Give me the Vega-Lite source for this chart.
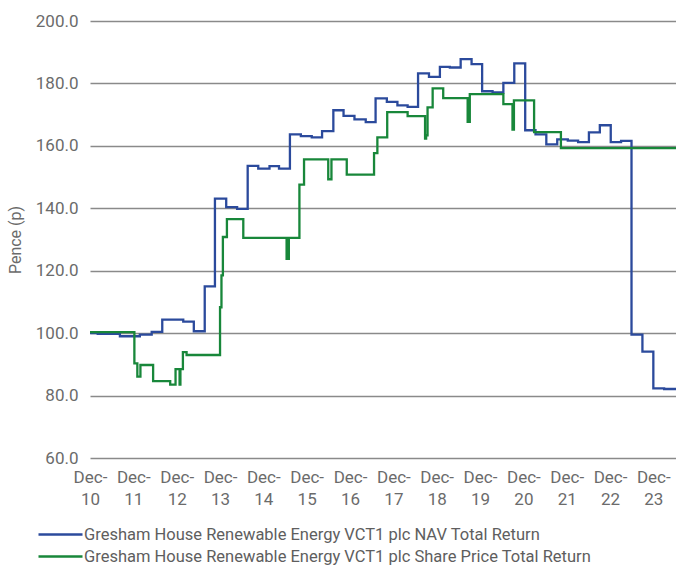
{
  "$schema": "https://vega.github.io/schema/vega-lite/v6.json",
  "width": 586,
  "height": 437,
  "autosize": {"type": "none"},
  "padding": {"left": 90, "top": 21, "right": 0, "bottom": 107},
  "background": "white",
  "config": {
    "view": {"stroke": null},
    "font": "Roboto",
    "axis": {"labelFont": "Roboto", "titleFont": "Roboto"},
    "legend": {"labelFont": "Roboto"}
  },
  "datasets": {
    "nav": [
      {"date": "2011-01-01", "v": 100.0},
      {"date": "2011-03-07", "v": 99.8},
      {"date": "2011-09-10", "v": 99.0},
      {"date": "2012-02-25", "v": 99.5},
      {"date": "2012-06-04", "v": 100.4},
      {"date": "2012-09-01", "v": 104.3},
      {"date": "2013-02-25", "v": 103.7},
      {"date": "2013-05-25", "v": 100.6},
      {"date": "2013-08-25", "v": 115.0},
      {"date": "2013-11-19", "v": 143.1},
      {"date": "2014-02-22", "v": 140.4},
      {"date": "2014-05-25", "v": 139.8},
      {"date": "2014-08-22", "v": 153.6},
      {"date": "2014-11-19", "v": 152.7},
      {"date": "2015-02-22", "v": 153.5},
      {"date": "2015-05-13", "v": 152.7},
      {"date": "2015-08-13", "v": 163.7},
      {"date": "2015-11-13", "v": 163.1},
      {"date": "2016-02-13", "v": 162.7},
      {"date": "2016-05-10", "v": 164.7},
      {"date": "2016-08-13", "v": 171.4},
      {"date": "2016-11-07", "v": 169.6},
      {"date": "2017-02-07", "v": 168.5},
      {"date": "2017-05-13", "v": 167.6},
      {"date": "2017-08-04", "v": 175.2},
      {"date": "2017-11-07", "v": 174.1},
      {"date": "2018-02-04", "v": 173.0},
      {"date": "2018-05-01", "v": 172.5},
      {"date": "2018-07-28", "v": 183.2},
      {"date": "2018-10-28", "v": 182.1},
      {"date": "2019-01-28", "v": 185.3},
      {"date": "2019-04-22", "v": 185.1},
      {"date": "2019-07-22", "v": 187.8},
      {"date": "2019-10-22", "v": 186.2},
      {"date": "2020-01-19", "v": 177.5},
      {"date": "2020-04-16", "v": 177.1},
      {"date": "2020-07-16", "v": 180.2},
      {"date": "2020-10-16", "v": 186.4},
      {"date": "2021-01-16", "v": 165.0},
      {"date": "2021-04-13", "v": 163.7},
      {"date": "2021-07-13", "v": 160.5},
      {"date": "2021-10-13", "v": 162.1},
      {"date": "2022-01-10", "v": 161.7},
      {"date": "2022-04-07", "v": 161.2},
      {"date": "2022-07-07", "v": 164.3},
      {"date": "2022-10-07", "v": 166.6},
      {"date": "2023-01-07", "v": 161.2},
      {"date": "2023-04-04", "v": 161.6},
      {"date": "2023-07-01", "v": 99.5},
      {"date": "2023-10-01", "v": 94.1},
      {"date": "2024-01-01", "v": 82.3},
      {"date": "2024-04-01", "v": 82.1},
      {"date": "2024-07-10", "v": 82.1}
    ],
    "price": [
      {"date": "2011-01-01", "v": 100.3},
      {"date": "2012-01-10", "v": 90.3},
      {"date": "2012-02-04", "v": 86.1},
      {"date": "2012-03-01", "v": 89.8},
      {"date": "2012-06-16", "v": 84.6},
      {"date": "2012-11-07", "v": 83.5},
      {"date": "2012-12-22", "v": 88.5},
      {"date": "2013-01-25", "v": 83.5},
      {"date": "2013-02-01", "v": 88.5},
      {"date": "2013-02-22", "v": 93.9},
      {"date": "2013-03-25", "v": 93.0},
      {"date": "2014-01-01", "v": 108.3},
      {"date": "2014-01-13", "v": 118.5},
      {"date": "2014-01-25", "v": 130.8},
      {"date": "2014-02-28", "v": 136.5},
      {"date": "2014-07-16", "v": 130.5},
      {"date": "2015-07-16", "v": 123.8},
      {"date": "2015-08-04", "v": 130.5},
      {"date": "2015-11-01", "v": 147.6},
      {"date": "2015-12-10", "v": 155.7},
      {"date": "2016-07-01", "v": 149.3},
      {"date": "2016-07-28", "v": 155.7},
      {"date": "2016-12-04", "v": 150.8},
      {"date": "2017-07-22", "v": 157.7},
      {"date": "2017-08-19", "v": 162.7},
      {"date": "2017-11-10", "v": 170.8},
      {"date": "2018-05-01", "v": 169.5},
      {"date": "2018-09-25", "v": 162.3},
      {"date": "2018-10-04", "v": 163.4},
      {"date": "2018-10-16", "v": 172.3},
      {"date": "2018-11-28", "v": 178.4},
      {"date": "2019-02-25", "v": 175.3},
      {"date": "2019-09-19", "v": 167.7},
      {"date": "2019-10-07", "v": 176.6},
      {"date": "2020-07-16", "v": 173.4},
      {"date": "2020-10-01", "v": 165.2},
      {"date": "2020-10-13", "v": 174.6},
      {"date": "2021-04-01", "v": 164.4},
      {"date": "2021-11-13", "v": 159.3},
      {"date": "2024-07-10", "v": 159.3}
    ]
  },
  "layer": [
    {
      "data": {"name": "nav"},
      "transform": [
        {"calculate": "'Gresham House Renewable Energy VCT1 plc NAV Total Return'", "as": "series"}
      ],
      "mark": {"type": "line", "interpolate": "step-after", "strokeWidth": 2.3, "clip": true},
      "encoding": {
        "x": {
          "field": "date", "type": "temporal",
          "scale": {"domain": ["2011-01-01", "2024-07-10"]},
          "axis": {
            "title": null, "grid": false, "domain": false, "ticks": false,
            "tickCount": {"interval": "year", "step": 1},
            "labelExpr": "['Dec-', slice('' + (year(datum.value) - 1), 2)]",
            "labelFontSize": 17, "labelColor": "#6b6b6b", "labelPadding": 11,
            "labelLineHeight": 22, "labelOverlap": false, "labelFlush": false,
            "labelBound": false, "labelAlign": "center"
          }
        },
        "y": {
          "field": "v", "type": "quantitative",
          "scale": {"domain": [60, 200], "nice": false, "zero": false},
          "axis": {
            "title": "Pence (p)", "titleFontSize": 16, "titleFontWeight": "normal",
            "titleColor": "#6b6b6b", "titlePadding": 12,
            "values": [60, 80, 100, 120, 140, 160, 180, 200],
            "format": ".1f", "labelFontSize": 17, "labelColor": "#6b6b6b",
            "labelPadding": 12, "domain": false, "ticks": false,
            "grid": true, "gridColor": "#8a8a8a", "gridWidth": 1.3
          }
        },
        "color": {
          "field": "series", "type": "nominal",
          "scale": {
            "domain": ["Gresham House Renewable Energy VCT1 plc NAV Total Return", "Gresham House Renewable Energy VCT1 plc Share Price Total Return"],
            "range": ["#2b4a9c", "#18873a"]
          },
          "legend": {
            "title": null, "orient": "none", "legendX": -42, "legendY": 501,
            "direction": "vertical", "symbolType": "M-2,0H2", "symbolSize": 484,
            "symbolStrokeWidth": 2.5, "labelFontSize": 16.5, "labelColor": "#5e5e5e",
            "labelLimit": 1000, "rowPadding": 1, "labelOffset": 11
          }
        }
      }
    },
    {
      "data": {"name": "price"},
      "transform": [
        {"calculate": "'Gresham House Renewable Energy VCT1 plc Share Price Total Return'", "as": "series"}
      ],
      "mark": {"type": "line", "interpolate": "step-after", "strokeWidth": 2.3, "clip": true},
      "encoding": {
        "x": {"field": "date", "type": "temporal"},
        "y": {"field": "v", "type": "quantitative"},
        "color": {"field": "series", "type": "nominal"}
      }
    }
  ]
}
